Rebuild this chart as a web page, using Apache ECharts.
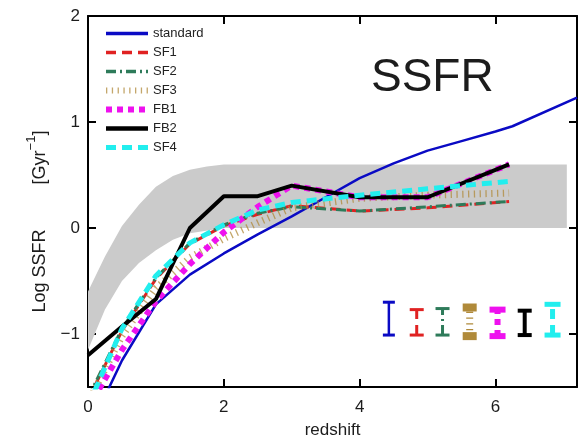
<!DOCTYPE html>
<html>
<head>
<meta charset="utf-8">
<script src="https://cdn.jsdelivr.net/npm/echarts@6/dist/echarts.min.js"></script>
<style>
html,body{margin:0;padding:0;background:#fff;}
#c{width:588px;height:439px;}
</style>
</head>
<body>
<div id="c"></div>
<script>
// ---------- data ----------
const seriesNames = ['standard', 'SF1', 'SF2', 'SF3', 'FB1', 'FB2', 'SF4'];

const zStd = [0.3, 0.5, 1, 1.5, 2, 2.5, 3, 3.5, 4, 4.5, 5, 5.5, 6, 6.25, 7.2];
const yStd = [-1.52, -1.25, -0.72, -0.44, -0.24, -0.06, 0.11, 0.29, 0.47, 0.61, 0.73, 0.82, 0.91, 0.96, 1.23];

const zSim = [0, 0.5, 1, 1.5, 2, 2.5, 3, 4, 5, 6.2];
const ySF1 = [-1.62, -0.97, -0.48, -0.15, 0.02, 0.13, 0.21, 0.16, 0.19, 0.25];
const ySF2 = [-1.60, -0.95, -0.47, -0.14, 0.03, 0.14, 0.20, 0.16, 0.20, 0.25];
const ySF3 = [-1.65, -1.02, -0.57, -0.28, -0.10, 0.05, 0.19, 0.28, 0.31, 0.33];
const yFB1 = [-1.70, -1.15, -0.69, -0.34, -0.04, 0.20, 0.40, 0.29, 0.29, 0.60];
const yFB2 = [-1.20, -0.93, -0.67, 0.00, 0.30, 0.30, 0.40, 0.29, 0.29, 0.60];
const ySF4 = [-1.68, -0.95, -0.45, -0.14, 0.03, 0.17, 0.24, 0.31, 0.37, 0.44];

// observational band
const zBandUp = [0, 0.25, 0.5, 0.75, 1, 1.25, 1.5, 1.75, 2, 7.05];
const yBandUp = [-0.6, -0.27, 0.02, 0.22, 0.39, 0.49, 0.55, 0.58, 0.6, 0.6];
const zBandLo = [0, 0.25, 0.5, 0.75, 1, 1.25, 1.5, 2, 7.05];
const yBandLo = [-1.15, -0.77, -0.5, -0.33, -0.21, -0.11, -0.05, 0, 0];

// typical error bars
const errZ = [4.43, 4.84, 5.22, 5.62, 6.03, 6.43, 6.84];
const errLow = [-1.01, -1.01, -1.01, -1.02, -1.02, -1.01, -1.01];
const errHigh = [-0.70, -0.77, -0.76, -0.75, -0.77, -0.78, -0.72];

// ---------- styles ----------
const FONT = 'Liberation Sans';
const styles = [
  {color: '#0a0ac4', width: 2.5, type: 'solid', legendWidth: 3.5, cap: 6, capW: 3, opacity: 1},
  {color: '#e02222', width: 3, type: [10, 6], legendWidth: 3.5, cap: 7, capW: 3, opacity: 1},
  {color: '#2e7b5a', width: 3, type: [10, 4, 2, 4], legendWidth: 3.5, cap: 7, capW: 3, opacity: 1},
  {color: '#b08a3a', width: 7, type: [1.3, 4.5], legendWidth: 6, cap: 7, capW: 8, opacity: 0.75},
  {color: '#ee11ee', width: 6, type: [6, 5], legendWidth: 6, cap: 8, capW: 6, opacity: 1},
  {color: '#000000', width: 4, type: 'solid', legendWidth: 4.5, cap: 7, capW: 4, opacity: 1},
  {color: '#22eeee', width: 5, type: [10, 6], legendWidth: 5, cap: 8, capW: 5, opacity: 1}
];
function dashArr(t) { return t === 'solid' ? null : t; }

const simY = [ySF1, ySF2, ySF3, yFB1, yFB2, ySF4];

const lineSeries = [];
lineSeries.push({
  name: seriesNames[0], type: 'line', symbol: 'none', z: 3,
  data: zStd.map((z, i) => [z, yStd[i]]),
  lineStyle: {color: styles[0].color, width: styles[0].width, type: styles[0].type},
  itemStyle: {color: styles[0].color}, clip: true
});
simY.forEach((arr, k) => {
  const s = styles[k + 1];
  lineSeries.push({
    name: seriesNames[k + 1], type: 'line', symbol: 'none', z: 3,
    data: zSim.map((z, i) => [z, arr[i]]),
    lineStyle: {color: s.color, width: s.width, type: s.type, cap: 'butt', opacity: s.opacity},
    itemStyle: {color: s.color}, clip: true
  });
});

const bandSeries = {
  type: 'custom', silent: true, z: 1, clip: true,
  data: [[0, 0]],
  renderItem: function (params, api) {
    const pts = [];
    for (let i = 0; i < zBandUp.length; i++) pts.push(api.coord([zBandUp[i], yBandUp[i]]));
    for (let i = zBandLo.length - 1; i >= 0; i--) pts.push(api.coord([zBandLo[i], yBandLo[i]]));
    return {type: 'polygon', shape: {points: pts}, style: {fill: '#cbcbcb', stroke: null}};
  }
};

const errSeries = {
  type: 'custom', silent: true, z: 4,
  data: errZ.map((z, i) => [z, errLow[i], errHigh[i], i]),
  encode: {x: 0, y: [1, 2]},
  renderItem: function (params, api) {
    const i = api.value(3);
    const s = styles[i];
    const lo = api.coord([api.value(0), api.value(1)]);
    const hi = api.coord([api.value(0), api.value(2)]);
    const stem = {stroke: s.color, lineWidth: s.width, lineDash: dashArr(s.type), fill: null};
    const capS = {stroke: s.color, lineWidth: s.capW, fill: null};
    return {type: 'group', children: [
      {type: 'line', shape: {x1: lo[0], y1: lo[1], x2: hi[0], y2: hi[1]}, style: stem},
      {type: 'line', shape: {x1: hi[0] - s.cap, y1: hi[1], x2: hi[0] + s.cap, y2: hi[1]}, style: capS},
      {type: 'line', shape: {x1: lo[0] - s.cap, y1: lo[1], x2: lo[0] + s.cap, y2: lo[1]}, style: capS}
    ]};
  }
};

function fmtNum(v) {
  if (!Number.isInteger(v)) return '';
  return v < 0 ? '\u2212' + (-v) : String(v);
}

const axisLineStyle = {color: '#000', width: 2};
const tickStyle = {show: true, inside: true, length: 8, lineStyle: {color: '#000', width: 2}};

const option = {
  animation: false,
  backgroundColor: '#fff',
  title: {
    text: 'SSFR', left: 366, top: 50,
    textStyle: {fontFamily: FONT, fontSize: 46, fontWeight: 'normal', color: '#1c1c1c'}
  },
  legend: {
    orient: 'vertical', left: 98, top: 22,
    itemWidth: 42, itemHeight: 14, itemGap: 6, padding: 5,
    selectedMode: false,
    itemStyle: {opacity: 0},
    textStyle: {fontFamily: FONT, fontSize: 13, color: '#222'},
    data: seriesNames.map((n, i) => ({
      name: n,
      lineStyle: {width: styles[i].legendWidth}
    }))
  },
  grid: {left: 88, top: 16, right: 11, bottom: 52, containLabel: false, outerBoundsMode: 'none'},
  xAxis: [
    {
      type: 'value', min: 0, max: 7.2, interval: 2, position: 'bottom',
      name: 'redshift', nameLocation: 'middle', nameGap: 35,
      nameTextStyle: {fontFamily: FONT, fontSize: 17, color: '#1c1c1c'},
      axisLine: {show: true, onZero: false, lineStyle: axisLineStyle},
      axisTick: tickStyle,
      axisLabel: {fontFamily: FONT, fontSize: 17, color: '#1c1c1c', margin: 12,
        showMaxLabel: false, formatter: fmtNum},
      splitLine: {show: false}
    },
    {
      type: 'value', min: 0, max: 7.2, interval: 2, position: 'top',
      axisLine: {show: true, onZero: false, lineStyle: axisLineStyle},
      axisTick: tickStyle, axisLabel: {show: false}, splitLine: {show: false}
    }
  ],
  yAxis: [
    {
      type: 'value', min: -1.5, max: 2, minInterval: 1, maxInterval: 1, splitNumber: 3, position: 'left',
      name: '{a|Log SSFR         [Gyr}{s|\u22121}{a|]}', nameLocation: 'middle', nameGap: 39,
      nameTextStyle: {
        padding: [0, 40, 0, 0],
        rich: {
          a: {fontFamily: FONT, fontSize: 18, color: '#1c1c1c', lineHeight: 24, verticalAlign: 'bottom'},
          s: {fontFamily: FONT, fontSize: 13, color: '#1c1c1c', lineHeight: 13, verticalAlign: 'top'}
        }
      },
      axisLine: {show: true, onZero: false, lineStyle: axisLineStyle},
      axisTick: tickStyle,
      axisLabel: {fontFamily: FONT, fontSize: 17, color: '#1c1c1c', margin: 8,
        showMinLabel: false, formatter: fmtNum},
      splitLine: {show: false}
    },
    {
      type: 'value', min: -1.5, max: 2, minInterval: 1, maxInterval: 1, splitNumber: 3, position: 'right',
      axisLine: {show: true, onZero: false, lineStyle: axisLineStyle},
      axisTick: tickStyle, axisLabel: {show: false}, splitLine: {show: false}
    }
  ],
  series: [bandSeries].concat(lineSeries).concat([errSeries])
};

const chart = echarts.init(document.getElementById('c'), null, {renderer: 'canvas'});
chart.setOption(option);
</script>
</body>
</html>
